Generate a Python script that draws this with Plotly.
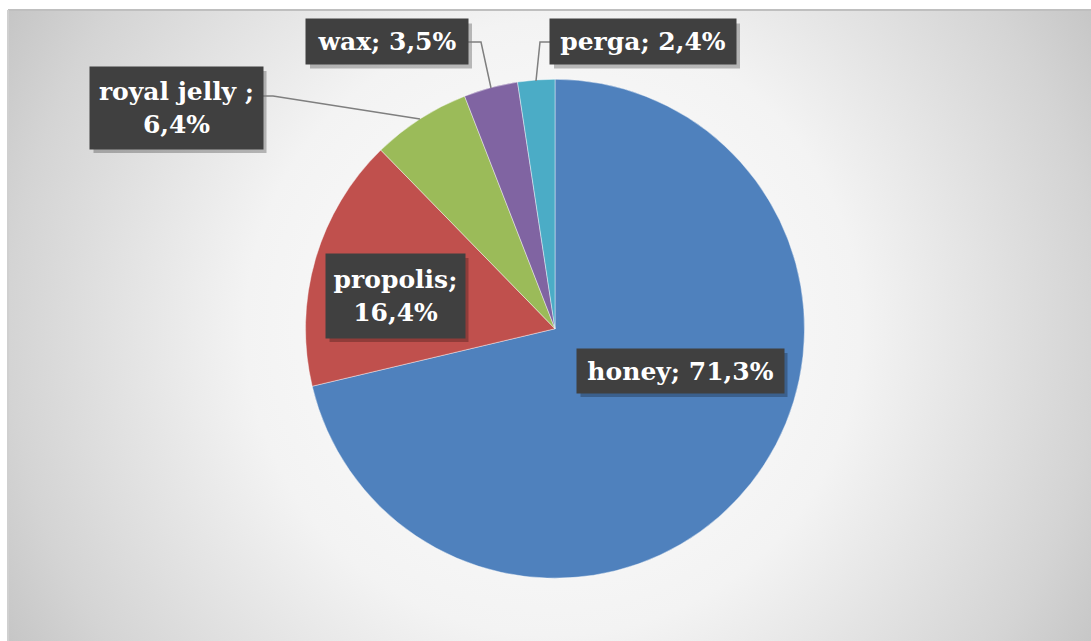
import base64
import plotly.graph_objects as go

# ---- data ----
categories = ["honey", "propolis", "royal jelly ", "wax", "perga"]
values = [71.3, 16.4, 6.4, 3.5, 2.4]
separators = ["; ", ";<br>", ";<br>", "; ", "; "]
colors = ["#4F81BD", "#C0504D", "#9BBB59", "#8064A2", "#4BACC6"]

W, H = 1091, 641

def px(x):
    return x / W

def py(y):
    return 1 - y / H

label_texts = [
    f"{c}{s}{v:.1f}%".replace(".", ",") for c, s, v in zip(categories, separators, values)
]

label_pos = [(680, 371), (395, 296), (176, 108), (387, 42), (643, 42)]
box_sizes = [(207, 44), (139, 84), (173, 82), (162, 45), (186, 45)]
leaders = [
    None,
    None,
    [(263, 96), (273, 96), (420, 119)],
    [(468, 42), (481, 42), (491, 88)],
    [(550, 42), (540, 42), (536, 81)],
]

fig = go.Figure(
    go.Pie(
        labels=categories,
        values=values,
        sort=False,
        direction="clockwise",
        rotation=0,
        marker=dict(colors=colors, line=dict(color="rgba(255,255,255,0.6)", width=0.7)),
        textinfo="none",
        hoverinfo="label+percent",
        domain=dict(x=[px(305.5), px(804.5)], y=[py(578.5), py(79)]),
        showlegend=False,
    )
)

svg = f"""<svg xmlns='http://www.w3.org/2000/svg' width='1083' height='631' viewBox='0 0 1083 631'>
<defs><radialGradient id='g' gradientUnits='userSpaceOnUse' cx='545' cy='318' r='640'>
<stop offset='0' stop-color='#ffffff'/>
<stop offset='0.48' stop-color='#f3f3f3'/>
<stop offset='0.85' stop-color='#d4d4d4'/>
<stop offset='1' stop-color='#c4c4c4'/>
</radialGradient></defs>
<rect x='0' y='0' width='1083' height='631' fill='url(#g)'/></svg>"""
src = "data:image/svg+xml;base64," + base64.b64encode(svg.encode()).decode()

fig.add_layout_image(
    dict(
        source=src, xref="paper", yref="paper", x=px(8), y=py(10),
        sizex=px(1083), sizey=631 / H,
        xanchor="left", yanchor="top", sizing="stretch", layer="below",
    )
)

shapes = [
    dict(type="line", xref="paper", yref="paper", x0=px(8), x1=px(1091), y0=py(10), y1=py(10),
         line=dict(color="#bfbfbf", width=2)),
    dict(type="line", xref="paper", yref="paper", x0=px(8), x1=px(8), y0=py(10), y1=py(641),
         line=dict(color="#d0d0d0", width=2)),
]

for (cx, cy), (bw, bh) in zip(label_pos, box_sizes):
    shapes.append(dict(
        type="rect", xref="paper", yref="paper",
        x0=px(cx - bw / 2 + 4), x1=px(cx + bw / 2 + 4),
        y0=py(cy + bh / 2 + 4), y1=py(cy - bh / 2 + 4),
        fillcolor="rgba(0,0,0,0.25)", line=dict(width=0), layer="above",
    ))

for pts in leaders:
    if pts is None:
        continue
    path = "M " + " L ".join(f"{px(x)},{py(y)}" for x, y in pts)
    shapes.append(dict(type="path", xref="paper", yref="paper", path=path,
                       line=dict(color="#7f7f7f", width=1.5), layer="above"))

fig.update_layout(shapes=shapes)

for txt, (cx, cy), (bw, bh) in zip(label_texts, label_pos, box_sizes):
    fig.add_annotation(
        text=f"<b>{txt}</b>", xref="paper", yref="paper", x=px(cx), y=py(cy),
        xanchor="center", yanchor="middle", showarrow=False,
        font=dict(family="DejaVu Serif", size=25, color="white"),
        bgcolor="#404040", width=bw, height=bh, borderpad=0, align="center",
    )

fig.update_layout(
    width=W, height=H,
    margin=dict(l=0, r=0, t=0, b=0),
    paper_bgcolor="white",
    plot_bgcolor="white",
)

fig.write_html("out.html")
